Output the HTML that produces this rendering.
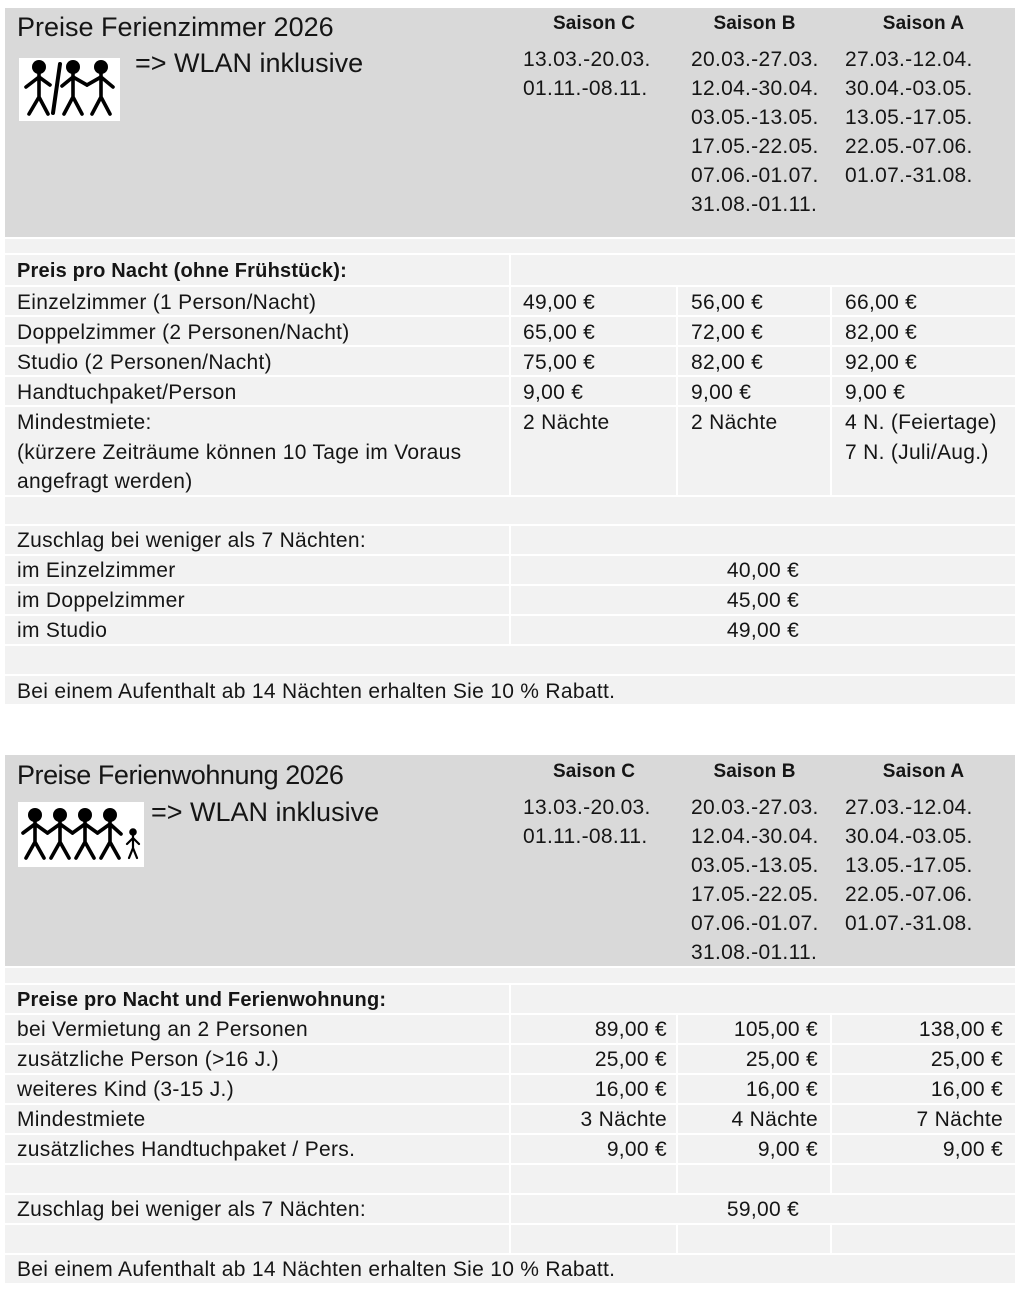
<!DOCTYPE html>
<html><head><meta charset="utf-8">
<style>
html,body{margin:0;padding:0;background:#fff}
body{position:relative;width:1025px;height:1292px;overflow:hidden}
.h{position:absolute;background:#d9d9d9}
.b{position:absolute;background:#f2f2f2}
.t{position:absolute;font-family:"Liberation Sans",sans-serif;font-size:21px;line-height:21px;letter-spacing:0.3px;color:#151515;white-space:nowrap}
.bd{font-weight:bold;font-size:20px;line-height:20px;letter-spacing:0.2px}
.tt{font-size:27px;line-height:27px;letter-spacing:0}
.sh{font-size:19px;line-height:19px;font-weight:bold;letter-spacing:0.1px;text-align:center}
.dl{line-height:28.9px}
.r{text-align:right}
.c{text-align:center}
svg{position:absolute;background:#fff}
</style></head><body>

<!-- ============ TABLE 1 ============ -->
<div class="h" style="left:5px;top:8px;width:1010px;height:229px"></div>
<div class="b" style="left:5px;top:239px;width:1010px;height:14px"></div>
<div class="b" style="left:5px;top:255px;width:504px;height:30px"></div>
<div class="b" style="left:511px;top:255px;width:504px;height:30px"></div>

<div class="b" style="left:5px;top:287px;width:504px;height:28px"></div>
<div class="b" style="left:511px;top:287px;width:165px;height:28px"></div>
<div class="b" style="left:678px;top:287px;width:152px;height:28px"></div>
<div class="b" style="left:832px;top:287px;width:183px;height:28px"></div>

<div class="b" style="left:5px;top:317px;width:504px;height:28px"></div>
<div class="b" style="left:511px;top:317px;width:165px;height:28px"></div>
<div class="b" style="left:678px;top:317px;width:152px;height:28px"></div>
<div class="b" style="left:832px;top:317px;width:183px;height:28px"></div>

<div class="b" style="left:5px;top:347px;width:504px;height:28px"></div>
<div class="b" style="left:511px;top:347px;width:165px;height:28px"></div>
<div class="b" style="left:678px;top:347px;width:152px;height:28px"></div>
<div class="b" style="left:832px;top:347px;width:183px;height:28px"></div>

<div class="b" style="left:5px;top:377px;width:504px;height:28px"></div>
<div class="b" style="left:511px;top:377px;width:165px;height:28px"></div>
<div class="b" style="left:678px;top:377px;width:152px;height:28px"></div>
<div class="b" style="left:832px;top:377px;width:183px;height:28px"></div>

<div class="b" style="left:5px;top:407px;width:504px;height:88px"></div>
<div class="b" style="left:511px;top:407px;width:165px;height:88px"></div>
<div class="b" style="left:678px;top:407px;width:152px;height:88px"></div>
<div class="b" style="left:832px;top:407px;width:183px;height:88px"></div>

<div class="b" style="left:5px;top:497px;width:1010px;height:27px"></div>

<div class="b" style="left:5px;top:526px;width:504px;height:28px"></div>
<div class="b" style="left:511px;top:526px;width:504px;height:28px"></div>
<div class="b" style="left:5px;top:556px;width:504px;height:28px"></div>
<div class="b" style="left:511px;top:556px;width:504px;height:28px"></div>
<div class="b" style="left:5px;top:586px;width:504px;height:28px"></div>
<div class="b" style="left:511px;top:586px;width:504px;height:28px"></div>
<div class="b" style="left:5px;top:616px;width:504px;height:28px"></div>
<div class="b" style="left:511px;top:616px;width:504px;height:28px"></div>

<div class="b" style="left:5px;top:646px;width:1010px;height:28px"></div>
<div class="b" style="left:5px;top:676px;width:1010px;height:28px"></div>

<!-- header texts table 1 -->
<div class="t tt" style="left:17px;top:14px">Preise Ferienzimmer 2026</div>
<div class="t tt" style="left:135px;top:50px">=&gt; WLAN inklusive</div>
<svg style="left:19px;top:58px" width="101" height="63" viewBox="0 0 101 63">
  <g stroke="#000" stroke-width="3.6" fill="none" stroke-linecap="round" stroke-linejoin="round">
    <path d="M20 15 L20 39 M7 29 L20 19 L31 27 M10 56 L20 39 L29 56"/>
    <path d="M54 15 L54 39 M43 28 L54 19 L68 27 M45 56 L54 39 L63 56"/>
    <path d="M82 15 L82 39 M68 27 L82 19 L94 29 M73 56 L82 39 L91 56"/>
    <path d="M41 6 L34 55" stroke-width="4"/>
  </g>
  <g fill="#000"><circle cx="20" cy="9" r="7"/><circle cx="54" cy="9" r="7"/><circle cx="82" cy="9" r="7"/></g>
</svg>

<div class="t sh" style="left:511px;top:14px;width:166px">Saison C</div>
<div class="t sh" style="left:678px;top:14px;width:153px">Saison B</div>
<div class="t sh" style="left:832px;top:14px;width:183px">Saison A</div>

<div class="t dl" style="left:523px;top:46.3px">13.03.-20.03.<br>01.11.-08.11.</div>
<div class="t dl" style="left:691px;top:46.3px">20.03.-27.03.<br>12.04.-30.04.<br>03.05.-13.05.<br>17.05.-22.05.<br>07.06.-01.07.<br>31.08.-01.11.</div>
<div class="t dl" style="left:845px;top:46.3px">27.03.-12.04.<br>30.04.-03.05.<br>13.05.-17.05.<br>22.05.-07.06.<br>01.07.-31.08.</div>

<!-- row texts table 1 -->
<div class="t bd" style="left:17px;top:261px">Preis pro Nacht (ohne Frühstück):</div>

<div class="t" style="left:17px;top:292px">Einzelzimmer (1 Person/Nacht)</div>
<div class="t" style="left:523px;top:292px">49,00 €</div>
<div class="t" style="left:691px;top:292px">56,00 €</div>
<div class="t" style="left:845px;top:292px">66,00 €</div>

<div class="t" style="left:17px;top:322px">Doppelzimmer (2 Personen/Nacht)</div>
<div class="t" style="left:523px;top:322px">65,00 €</div>
<div class="t" style="left:691px;top:322px">72,00 €</div>
<div class="t" style="left:845px;top:322px">82,00 €</div>

<div class="t" style="left:17px;top:352px">Studio (2 Personen/Nacht)</div>
<div class="t" style="left:523px;top:352px">75,00 €</div>
<div class="t" style="left:691px;top:352px">82,00 €</div>
<div class="t" style="left:845px;top:352px">92,00 €</div>

<div class="t" style="left:17px;top:382px">Handtuchpaket/Person</div>
<div class="t" style="left:523px;top:382px">9,00 €</div>
<div class="t" style="left:691px;top:382px">9,00 €</div>
<div class="t" style="left:845px;top:382px">9,00 €</div>

<div class="t" style="left:17px;top:408px;line-height:29.5px">Mindestmiete:<br>(kürzere Zeiträume können 10 Tage im Voraus<br>angefragt werden)</div>
<div class="t" style="left:523px;top:408px;line-height:29.5px">2 Nächte</div>
<div class="t" style="left:691px;top:408px;line-height:29.5px">2 Nächte</div>
<div class="t" style="left:845px;top:408px;line-height:29.5px">4 N. (Feiertage)<br>7 N. (Juli/Aug.)</div>

<div class="t" style="left:17px;top:530px">Zuschlag bei weniger als 7 Nächten:</div>
<div class="t" style="left:17px;top:560px">im Einzelzimmer</div>
<div class="t c" style="left:511px;top:560px;width:504px">40,00 €</div>
<div class="t" style="left:17px;top:590px">im Doppelzimmer</div>
<div class="t c" style="left:511px;top:590px;width:504px">45,00 €</div>
<div class="t" style="left:17px;top:620px">im Studio</div>
<div class="t c" style="left:511px;top:620px;width:504px">49,00 €</div>

<div class="t" style="left:17px;top:681px">Bei einem Aufenthalt ab 14 Nächten erhalten Sie 10 % Rabatt.</div>

<!-- ============ TABLE 2 ============ -->
<div class="h" style="left:5px;top:755px;width:1010px;height:211px"></div>
<div class="b" style="left:5px;top:968px;width:1010px;height:15px"></div>
<div class="b" style="left:5px;top:985px;width:504px;height:28px"></div>
<div class="b" style="left:511px;top:985px;width:504px;height:28px"></div>

<div class="b" style="left:5px;top:1015px;width:504px;height:28px"></div>
<div class="b" style="left:511px;top:1015px;width:165px;height:28px"></div>
<div class="b" style="left:678px;top:1015px;width:152px;height:28px"></div>
<div class="b" style="left:832px;top:1015px;width:183px;height:28px"></div>

<div class="b" style="left:5px;top:1045px;width:504px;height:28px"></div>
<div class="b" style="left:511px;top:1045px;width:165px;height:28px"></div>
<div class="b" style="left:678px;top:1045px;width:152px;height:28px"></div>
<div class="b" style="left:832px;top:1045px;width:183px;height:28px"></div>

<div class="b" style="left:5px;top:1075px;width:504px;height:28px"></div>
<div class="b" style="left:511px;top:1075px;width:165px;height:28px"></div>
<div class="b" style="left:678px;top:1075px;width:152px;height:28px"></div>
<div class="b" style="left:832px;top:1075px;width:183px;height:28px"></div>

<div class="b" style="left:5px;top:1105px;width:504px;height:28px"></div>
<div class="b" style="left:511px;top:1105px;width:165px;height:28px"></div>
<div class="b" style="left:678px;top:1105px;width:152px;height:28px"></div>
<div class="b" style="left:832px;top:1105px;width:183px;height:28px"></div>

<div class="b" style="left:5px;top:1135px;width:504px;height:28px"></div>
<div class="b" style="left:511px;top:1135px;width:165px;height:28px"></div>
<div class="b" style="left:678px;top:1135px;width:152px;height:28px"></div>
<div class="b" style="left:832px;top:1135px;width:183px;height:28px"></div>

<div class="b" style="left:5px;top:1165px;width:504px;height:28px"></div>
<div class="b" style="left:511px;top:1165px;width:165px;height:28px"></div>
<div class="b" style="left:678px;top:1165px;width:152px;height:28px"></div>
<div class="b" style="left:832px;top:1165px;width:183px;height:28px"></div>

<div class="b" style="left:5px;top:1195px;width:504px;height:28px"></div>
<div class="b" style="left:511px;top:1195px;width:504px;height:28px"></div>

<div class="b" style="left:5px;top:1225px;width:504px;height:28px"></div>
<div class="b" style="left:511px;top:1225px;width:165px;height:28px"></div>
<div class="b" style="left:678px;top:1225px;width:152px;height:28px"></div>
<div class="b" style="left:832px;top:1225px;width:183px;height:28px"></div>

<div class="b" style="left:5px;top:1255px;width:1010px;height:28px"></div>

<!-- header texts table 2 -->
<div class="t tt" style="left:17px;top:762px;letter-spacing:-0.45px">Preise Ferienwohnung 2026</div>
<div class="t tt" style="left:151px;top:799px">=&gt; WLAN inklusive</div>
<svg style="left:18px;top:802px" width="126" height="65" viewBox="0 0 126 65">
  <g stroke="#000" stroke-width="3.6" fill="none" stroke-linecap="round" stroke-linejoin="round">
    <path d="M17 19 L17 40 M5 31 L17 22 L29.5 31 M8 56 L17 40 L26 56"/>
    <path d="M42 19 L42 40 M29.5 31 L42 22 L54.5 31 M33 56 L42 40 L51 56"/>
    <path d="M67 19 L67 40 M54.5 31 L67 22 L79.5 31 M58 56 L67 40 L76 56"/>
    <path d="M92 19 L92 40 M79.5 31 L92 22 L103 32 M83 56 L92 40 L101 56"/>
    <path d="M115 33 L115 46 M109 42 L115 36 L121 42 M111 56 L115 46 L119 56" stroke-width="2.2"/>
  </g>
  <g fill="#000"><circle cx="17" cy="13" r="7"/><circle cx="42" cy="13" r="7"/><circle cx="67" cy="13" r="7"/><circle cx="92" cy="13" r="7"/><circle cx="115" cy="30" r="3.8"/></g>
</svg>

<div class="t sh" style="left:511px;top:762px;width:166px">Saison C</div>
<div class="t sh" style="left:678px;top:762px;width:153px">Saison B</div>
<div class="t sh" style="left:832px;top:762px;width:183px">Saison A</div>

<div class="t dl" style="left:523px;top:794.3px">13.03.-20.03.<br>01.11.-08.11.</div>
<div class="t dl" style="left:691px;top:794.3px">20.03.-27.03.<br>12.04.-30.04.<br>03.05.-13.05.<br>17.05.-22.05.<br>07.06.-01.07.<br>31.08.-01.11.</div>
<div class="t dl" style="left:845px;top:794.3px">27.03.-12.04.<br>30.04.-03.05.<br>13.05.-17.05.<br>22.05.-07.06.<br>01.07.-31.08.</div>

<!-- row texts table 2 -->
<div class="t bd" style="left:17px;top:990px">Preise pro Nacht und Ferienwohnung:</div>

<div class="t" style="left:17px;top:1019px">bei Vermietung an 2 Personen</div>
<div class="t r" style="left:511px;top:1019px;width:156px">89,00 €</div>
<div class="t r" style="left:678px;top:1019px;width:140px">105,00 €</div>
<div class="t r" style="left:832px;top:1019px;width:171px">138,00 €</div>

<div class="t" style="left:17px;top:1049px">zusätzliche Person (&gt;16 J.)</div>
<div class="t r" style="left:511px;top:1049px;width:156px">25,00 €</div>
<div class="t r" style="left:678px;top:1049px;width:140px">25,00 €</div>
<div class="t r" style="left:832px;top:1049px;width:171px">25,00 €</div>

<div class="t" style="left:17px;top:1079px">weiteres Kind (3-15 J.)</div>
<div class="t r" style="left:511px;top:1079px;width:156px">16,00 €</div>
<div class="t r" style="left:678px;top:1079px;width:140px">16,00 €</div>
<div class="t r" style="left:832px;top:1079px;width:171px">16,00 €</div>

<div class="t" style="left:17px;top:1109px">Mindestmiete</div>
<div class="t r" style="left:511px;top:1109px;width:156px">3 Nächte</div>
<div class="t r" style="left:678px;top:1109px;width:140px">4 Nächte</div>
<div class="t r" style="left:832px;top:1109px;width:171px">7 Nächte</div>

<div class="t" style="left:17px;top:1139px">zusätzliches Handtuchpaket / Pers.</div>
<div class="t r" style="left:511px;top:1139px;width:156px">9,00 €</div>
<div class="t r" style="left:678px;top:1139px;width:140px">9,00 €</div>
<div class="t r" style="left:832px;top:1139px;width:171px">9,00 €</div>

<div class="t" style="left:17px;top:1199px">Zuschlag bei weniger als 7 Nächten:</div>
<div class="t c" style="left:511px;top:1199px;width:504px">59,00 €</div>

<div class="t" style="left:17px;top:1259px">Bei einem Aufenthalt ab 14 Nächten erhalten Sie 10 % Rabatt.</div>

</body></html>
